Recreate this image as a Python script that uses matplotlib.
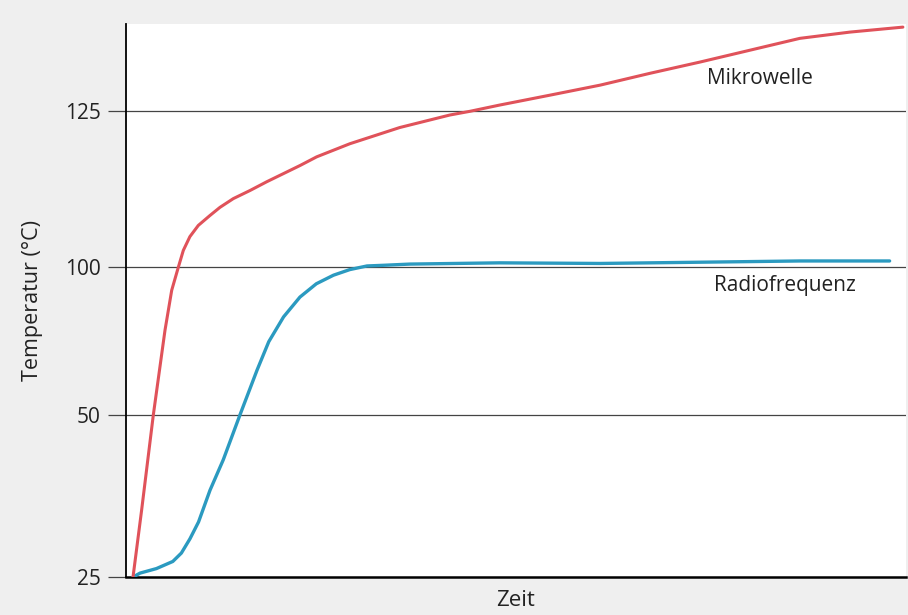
import numpy as np
import matplotlib
matplotlib.use("Agg")
import matplotlib.pyplot as plt

# Zeit (arbitrary units 0-100) and Temperatur (°C)
mw_time = [0.9, 2.0, 3.5, 5.0, 5.86, 6.71, 7.35, 8.19, 9.27, 10.77, 12.05, 13.76, 15.9,
           18.04, 20.17, 22.3, 24.45, 28.7, 35.1, 41.5, 44.1, 47.9, 54.4, 60.8, 67.2,
           73.6, 80.0, 86.4, 92.8, 99.6]
mw_temp = [25.0, 35.3, 50.0, 78.7, 92.2, 100.0, 102.7, 104.9, 106.7, 108.3, 109.6, 111.0, 112.3,
           113.7, 115.0, 116.3, 117.7, 119.8, 122.4, 124.4, 125.0, 126.0, 127.6, 129.2, 131.1,
           132.9, 134.8, 136.7, 137.7, 138.5]

rf_time = [0.9, 1.8, 3.9, 6.0, 7.1, 8.2, 9.3, 10.77, 12.47, 14.6, 16.8, 18.3,
           20.2, 22.3, 24.4, 26.6, 28.7, 30.9, 32.9, 36.4, 47.9, 60.8, 73.6, 86.4, 97.9]
rf_temp = [25.0, 25.6, 26.3, 27.4, 28.7, 30.9, 33.5, 38.4, 43.1, 50.0, 65.2, 74.8,
           83.2, 89.9, 94.4, 97.3, 99.2, 100.2, 100.3, 100.5, 100.7, 100.6, 100.8, 101.0, 101.0]

y_ticks = [25, 50, 100, 125]

# the printed axis spaces the ticks evenly, not linearly
scale_t = [0, 25, 50, 100, 125, 200]
scale_p = [-162, 0, 162, 310, 466, 934]


def fwd(v):
    return np.interp(v, scale_t, scale_p)


def inv(v):
    return np.interp(v, scale_p, scale_t)


plt.rcParams['font.family'] = ['Open Sans', 'DejaVu Sans']

fig = plt.figure(figsize=(9.08, 6.15), dpi=100)
fig.patch.set_facecolor('#efefef')
ax = fig.add_axes([126 / 908, 38 / 615, 780 / 908, 553 / 615])
ax.set_facecolor('white')

ax.set_yscale('function', functions=(fwd, inv))
ax.set_xlim(0, 100)
ax.set_ylim(25, 139.0)

for t in y_ticks[1:]:
    ax.axhline(t, color='#444444', lw=0.9, zorder=1)

ax.plot(rf_time, rf_temp, color='#2b9ac0', lw=2.4, solid_joinstyle='round',
        solid_capstyle='round', zorder=3)
ax.plot(mw_time, mw_temp, color='#e0525a', lw=2.2, solid_joinstyle='round',
        solid_capstyle='round', zorder=3)

ax.text(81.3, 130.3, 'Mikrowelle', fontsize=15, ha='center', va='center', color='#222222')
ax.text(84.5, 93.9, 'Radiofrequenz', fontsize=15, ha='center', va='center', color='#222222')

ax.set_yticks(y_ticks)
ax.set_yticklabels([str(t) for t in y_ticks])
ax.yaxis.set_minor_locator(matplotlib.ticker.NullLocator())
ax.set_xticks([])
ax.tick_params(axis='y', length=13, width=0.9, color='#444444', labelsize=15,
               pad=5, labelcolor='#222222')

ax.spines['top'].set_visible(False)
ax.spines['right'].set_visible(False)
ax.spines['left'].set_linewidth(1.3)
ax.spines['bottom'].set_linewidth(1.8)

ax.set_ylabel('Temperatur (°C)', fontsize=15.5, color='#222222', labelpad=16)
ax.set_xlabel('Zeit', fontsize=16, color='#222222', labelpad=9)

fig.savefig('out.png', dpi=100, facecolor=fig.get_facecolor())
